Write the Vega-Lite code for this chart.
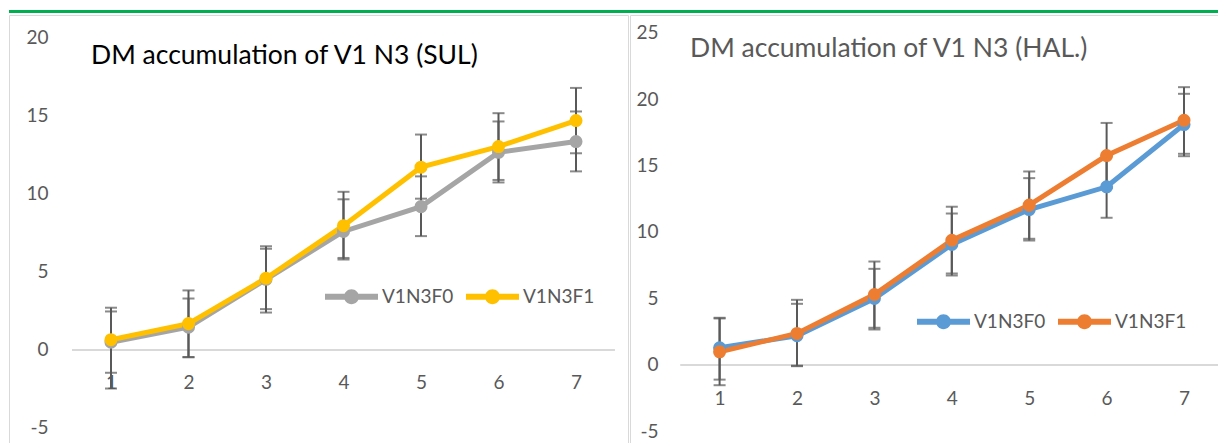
{
  "$schema": "https://vega.github.io/schema/vega-lite/v6.json",
  "padding": {"left": 8, "top": 10, "right": 0, "bottom": 0},
  "background": "white",
  "bounds": "flush",
  "config": {
    "font": "Lato",
    "view": {"stroke": "#D9D9D9", "strokeWidth": 1},
    "legend": {
      "orient": "none",
      "direction": "horizontal",
      "title": null,
      "symbolType": "M-1,-0.11L1,-0.11L1,0.11L-1,0.11Z M0.28,0 A0.28,0.28 0 1,1 -0.28,0 A0.28,0.28 0 1,1 0.28,0Z",
      "symbolSize": 2809,
      "symbolStrokeWidth": 0,
      "labelFont": "Lato",
      "labelFontSize": 19,
      "labelColor": "#595959",
      "labelOffset": 4,
      "columnPadding": 12
    },
    "axis": {
      "labelFont": "Lato",
      "labelFontSize": 19,
      "labelColor": "#595959",
      "domain": false,
      "ticks": false,
      "tickSize": 0,
      "grid": false,
      "title": null,
      "labelPadding": 0
    }
  },
  "datasets": {
    "sul": [
      {"step": 1, "series": "V1N3F0", "dm": 0.5, "lo": -2.47, "hi": 2.47},
      {"step": 2, "series": "V1N3F0", "dm": 1.46, "lo": -0.47, "hi": 3.3},
      {"step": 3, "series": "V1N3F0", "dm": 4.53, "lo": 2.4, "hi": 6.49},
      {"step": 4, "series": "V1N3F0", "dm": 7.6, "lo": 5.8, "hi": 9.66},
      {"step": 5, "series": "V1N3F0", "dm": 9.19, "lo": 7.3, "hi": 11.13},
      {"step": 6, "series": "V1N3F0", "dm": 12.67, "lo": 10.74, "hi": 14.65},
      {"step": 7, "series": "V1N3F0", "dm": 13.36, "lo": 11.45, "hi": 15.29},
      {"step": 1, "series": "V1N3F1", "dm": 0.66, "lo": -1.46, "hi": 2.71},
      {"step": 2, "series": "V1N3F1", "dm": 1.69, "lo": -0.45, "hi": 3.82},
      {"step": 3, "series": "V1N3F1", "dm": 4.6, "lo": 2.62, "hi": 6.65},
      {"step": 4, "series": "V1N3F1", "dm": 7.97, "lo": 5.9, "hi": 10.14},
      {"step": 5, "series": "V1N3F1", "dm": 11.72, "lo": 9.7, "hi": 13.81},
      {"step": 6, "series": "V1N3F1", "dm": 13.04, "lo": 10.9, "hi": 15.18},
      {"step": 7, "series": "V1N3F1", "dm": 14.71, "lo": 12.61, "hi": 16.8}
    ],
    "hal": [
      {"step": 1, "series": "V1N3F0", "dm": 1.29, "lo": -1.1, "hi": 3.55},
      {"step": 2, "series": "V1N3F0", "dm": 2.2, "lo": -0.09, "hi": 4.6},
      {"step": 3, "series": "V1N3F0", "dm": 5.0, "lo": 2.67, "hi": 7.23},
      {"step": 4, "series": "V1N3F0", "dm": 9.06, "lo": 6.73, "hi": 11.39},
      {"step": 5, "series": "V1N3F0", "dm": 11.69, "lo": 9.36, "hi": 14.05},
      {"step": 6, "series": "V1N3F0", "dm": 13.4, "lo": 11.07, "hi": 15.75},
      {"step": 7, "series": "V1N3F0", "dm": 18.08, "lo": 15.7, "hi": 20.39},
      {"step": 1, "series": "V1N3F1", "dm": 0.99, "lo": -1.52, "hi": 3.5},
      {"step": 2, "series": "V1N3F1", "dm": 2.37, "lo": -0.05, "hi": 4.9},
      {"step": 3, "series": "V1N3F1", "dm": 5.3, "lo": 2.8, "hi": 7.78},
      {"step": 4, "series": "V1N3F1", "dm": 9.38, "lo": 6.88, "hi": 11.9},
      {"step": 5, "series": "V1N3F1", "dm": 12.02, "lo": 9.49, "hi": 14.55},
      {"step": 6, "series": "V1N3F1", "dm": 15.75, "lo": 13.3, "hi": 18.2},
      {"step": 7, "series": "V1N3F1", "dm": 18.4, "lo": 15.88, "hi": 20.89}
    ]
  },
  "vconcat": [
    {
      "width": 1210,
      "height": 3,
      "view": {"fill": "#00B050", "stroke": null},
      "data": {"values": [{}]},
      "mark": {"type": "point", "size": 0, "opacity": 0}
    },
    {
      "bounds": "flush",
      "resolve": {"scale": {"color": "independent"}, "legend": {"color": "independent"}},
      "hconcat": [
        {
          "width": 619,
          "height": 428,
          "data": {"name": "sul"},
          "title": {"text": "DM accumulation of V1 N3 (SUL)", "anchor": "start", "frame": "group", "offset": -48, "dx": 82, "dy": 27, "baseline": "alphabetic", "font": "Lato", "fontSize": 26.5, "fontWeight": "normal", "color": "#000000"},
          "encoding": {
            "x": {"field": "step", "type": "quantitative", "scale": {"domain": [-0.3161, 7.671], "nice": false, "zero": false}, "axis": {"values": [1, 2, 3, 4, 5, 6, 7], "format": "d", "offset": -61, "labelBaseline": "middle"}}
          },
          "layer": [
            {
              "mark": {"type": "rule", "color": "#D9D9D9", "strokeWidth": 1.5},
              "encoding": {"x": {"datum": 0.5, "type": "quantitative"}, "x2": {"datum": 7.5}, "y": {"datum": 0, "type": "quantitative"}}
            },
            {
              "mark": {"type": "rule", "color": "#595959", "strokeWidth": 2},
              "encoding": {
                "y": {"field": "lo", "type": "quantitative", "scale": {"domain": [-5.962, 21.474], "nice": false, "zero": false}, "axis": {"values": [-5, 0, 5, 10, 15, 20], "offset": -39, "labelExpr": "'' + datum.value"}},
                "y2": {"field": "hi"}
              }
            },
            {
              "mark": {"type": "tick", "orient": "horizontal", "color": "#595959", "size": 12, "thickness": 2},
              "encoding": {"y": {"field": "lo", "type": "quantitative"}}
            },
            {
              "mark": {"type": "tick", "orient": "horizontal", "color": "#595959", "size": 12, "thickness": 2},
              "encoding": {"y": {"field": "hi", "type": "quantitative"}}
            },
            {
              "mark": {"type": "line", "strokeWidth": 5},
              "encoding": {
                "y": {"field": "dm", "type": "quantitative"},
                "color": {"field": "series", "type": "nominal", "scale": {"domain": ["V1N3F0", "V1N3F1"], "range": ["#A5A5A5", "#FFC000"]}, "legend": {"legendX": 316, "legendY": 255}}
              }
            },
            {
              "mark": {"type": "point", "filled": true, "opacity": 1, "size": 170},
              "encoding": {
                "y": {"field": "dm", "type": "quantitative"},
                "color": {"field": "series", "type": "nominal"}
              }
            }
          ]
        },
        {
          "width": 589,
          "height": 428,
          "data": {"name": "hal"},
          "title": {"text": "DM accumulation of V1 N3 (HAL.)", "anchor": "start", "frame": "group", "offset": -42, "dx": 60, "dy": 26, "baseline": "alphabetic", "font": "Lato", "fontSize": 26.5, "fontWeight": "normal", "color": "#595959"},
          "encoding": {
            "x": {"field": "step", "type": "quantitative", "scale": {"domain": [-0.1576, 7.452], "nice": false, "zero": false}, "axis": {"values": [1, 2, 3, 4, 5, 6, 7], "format": "d", "offset": -45, "labelBaseline": "middle"}}
          },
          "layer": [
            {
              "mark": {"type": "rule", "color": "#D9D9D9", "strokeWidth": 1.5},
              "encoding": {"x": {"datum": 0.5, "type": "quantitative"}, "x2": {"datum": 7.5}, "y": {"datum": 0, "type": "quantitative"}}
            },
            {
              "mark": {"type": "rule", "color": "#595959", "strokeWidth": 2},
              "encoding": {
                "y": {"field": "lo", "type": "quantitative", "scale": {"domain": [-5.865, 26.316], "nice": false, "zero": false}, "axis": {"values": [-5, 0, 5, 10, 15, 20, 25], "offset": -28, "labelExpr": "'' + datum.value"}},
                "y2": {"field": "hi"}
              }
            },
            {
              "mark": {"type": "tick", "orient": "horizontal", "color": "#595959", "size": 12, "thickness": 2},
              "encoding": {"y": {"field": "lo", "type": "quantitative"}}
            },
            {
              "mark": {"type": "tick", "orient": "horizontal", "color": "#595959", "size": 12, "thickness": 2},
              "encoding": {"y": {"field": "hi", "type": "quantitative"}}
            },
            {
              "mark": {"type": "line", "strokeWidth": 5},
              "encoding": {
                "y": {"field": "dm", "type": "quantitative"},
                "color": {"field": "series", "type": "nominal", "scale": {"domain": ["V1N3F0", "V1N3F1"], "range": ["#5B9BD5", "#ED7D31"]}, "legend": {"legendX": 287, "legendY": 280}}
              }
            },
            {
              "mark": {"type": "point", "filled": true, "opacity": 1, "size": 170},
              "encoding": {
                "y": {"field": "dm", "type": "quantitative"},
                "color": {"field": "series", "type": "nominal"}
              }
            }
          ]
        }
      ],
      "spacing": 2
    }
  ],
  "spacing": 2
}
